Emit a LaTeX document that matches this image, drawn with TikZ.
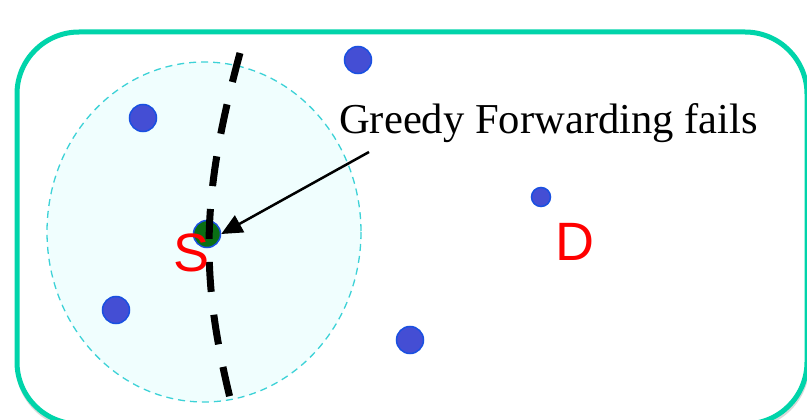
\documentclass[tikz,border=0pt]{standalone}
\usepackage{fontspec}
\setmainfont{Liberation Serif}
\newfontfamily\arialf{Liberation Sans}
\usetikzlibrary{arrows.meta}
\definecolor{framecol}{RGB}{0,212,170}
\definecolor{rangefill}{RGB}{240,254,254}
\definecolor{rangeline}{RGB}{60,210,215}
\definecolor{nodefill}{RGB}{68,78,212}
\definecolor{nodeline}{RGB}{25,80,225}
\definecolor{srcfill}{RGB}{10,110,20}
\tikzset{
  sensor/.style={circle,fill=nodefill,draw=nodeline,line width=1.5pt,inner sep=0pt,minimum size=27pt},
  smallsensor/.style={sensor,minimum size=19pt},
  lbl/.style={text=red,font=\arialf\fontsize{54}{54}\selectfont,inner sep=0pt}
}
\begin{document}
\begin{tikzpicture}[x=1pt,y=-1pt]
\useasboundingbox (0,0) rectangle (807,420);
\clip (0,0) rectangle (807,420);
% shadow
\fill[black!15,rounded corners=64pt] (15.5,33.5) rectangle (809.5,429);
% frame
\draw[framecol,fill=white,line width=5pt,rounded corners=62pt] (17,32) rectangle (807,424);
% range
\draw[rangeline,fill=rangefill,line width=1.3pt,dash pattern=on 7pt off 5pt] (204,232) ellipse [x radius=157, y radius=170];
% nodes
\node[sensor] (n1) at (358,60) {};
\node[sensor] (n2) at (143,118) {};
\node[sensor] (n3) at (116,310) {};
\node[sensor] (n4) at (410,340) {};
\node[smallsensor] (n5) at (541,197) {};
\node[sensor,fill=srcfill] (s) at (207,234) {};
% void boundary
\draw[black,line width=7pt,dash pattern=on 30pt off 23pt] (240,53) .. controls (200,200) and (200,280) .. (233,410);
% labels
\node[lbl] (sl) at (192,253) {S};
\node[lbl] (dl) at (575,242) {D};
\node[font=\fontsize{42.6}{42.6}\selectfont,inner sep=0pt,anchor=base west] (txt) at (339,134) {Greedy Forwarding fails};
\coordinate (astart) at (369,152);
\draw[line width=2.5pt,-{Triangle[length=21pt,width=19pt]}] (astart) -- (s.east);
\end{tikzpicture}
\end{document}
